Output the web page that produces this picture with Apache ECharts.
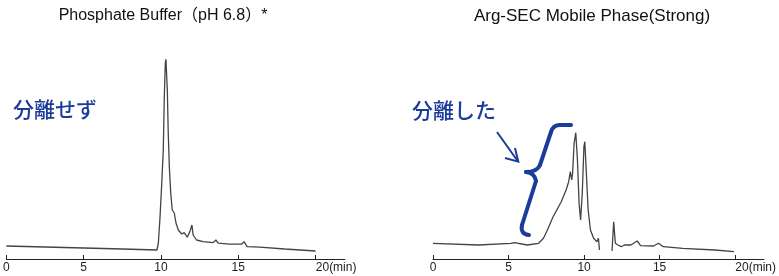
<!DOCTYPE html>
<html><head><meta charset="utf-8">
<script src="https://cdn.jsdelivr.net/npm/echarts@6/dist/echarts.min.js"></script>
<style>html,body{margin:0;padding:0;background:#fff}#c{width:779px;height:276px}</style>
</head><body><div id="c"></div>
<script>
const leftTitle = 'Phosphate Buffer（pH 6.8）*';
const rightTitle = 'Arg-SEC Mobile Phase(Strong)';
const leftNote = '分離せず';
const rightNote = '分離した';
const tickValues = [0, 5, 10, 15, 20];
const unitLabel = '(min)';

const leftTime = [0, 2.5, 5, 7.5, 9.74, 9.83, 9.94, 10.05, 10.15, 10.21, 10.28, 10.32, 10.41, 10.47, 10.54, 10.63, 10.73, 10.86, 10.97, 11.12, 11.34, 11.5, 11.7, 11.87, 12.0, 12.08, 12.3, 12.73, 13.37, 13.55, 13.7, 14.45, 15.21, 15.37, 15.57, 16.39, 18, 20];
const leftSignal = [6.5, 6.0, 5.5, 5.0, 4.5, 8, 21.2, 38, 54.5, 79.5, 98, 99.8, 84.5, 63, 46.2, 33, 24.5, 23, 18, 14.5, 12.5, 13.2, 10.9, 13.7, 17, 12, 9.5, 8.7, 8.2, 9.5, 7.9, 7.4, 7.4, 8.7, 6.2, 5.9, 5.0, 4.0];

const rightTime = [0, 3.02, 5.16, 5.38, 6.24, 6.99, 7.31, 7.52, 7.95, 8.49, 8.81, 8.98, 9.09, 9.18, 9.24, 9.34, 9.45, 9.56, 9.67, 9.77, 9.88, 9.99, 10.05, 10.14, 10.27, 10.42, 10.63, 10.85, 10.95, 11.02, 11.4, 11.85, 11.96, 12.07, 12.24, 12.46, 12.67, 13.1, 13.52, 13.74, 14.6, 14.92, 15.24, 16.53, 18.65, 19.92];
const rightSignal = [7.85, 7.0, 7.85, 8.15, 7.0, 7.85, 10.35, 13.65, 21.15, 28.65, 34.5, 38.65, 43.65, 39.5, 42.85, 57.85, 63.15, 49.5, 27.85, 19.5, 32.85, 56.15, 58.65, 44.5, 24.5, 14.5, 10.35, 8.65, 10.35, 4.5, '-', 4.0, 18.65, 7.85, 7.0, 6.15, 7.0, 7.0, 9.0, 6.65, 6.5, 7.85, 6.15, 5.35, 4.5, 3.65];

const pair = (t, s) => t.map((x, i) => [x, s[i]]);
const blue = '#1b3c98';
const font = '"Liberation Sans", Arial, "Noto Sans CJK JP", sans-serif';
const jpFont = '"Noto Sans CJK JP", sans-serif';

function xAxisFor(gridIndex) {
  return {
    type: 'value', gridIndex, min: 0, max: 21.9,
    axisLine: { show: true, lineStyle: { color: '#222', width: 1 } },
    axisTick: { show: true, inside: true, length: 4, customValues: tickValues, lineStyle: { color: '#222' } },
    axisLabel: {
      customValues: tickValues, margin: 3, color: '#222', fontSize: 12, fontFamily: font,
      formatter: v => v === 20 ? '{pad|}20' + unitLabel : String(v),
      rich: { pad: { width: 41 } }
    },
    splitLine: { show: false }
  };
}
function yAxisFor(gridIndex) {
  return { type: 'value', gridIndex, min: 0, max: 100, show: false, splitLine: { show: false } };
}

const braceStyle = { stroke: blue, lineWidth: 4, fill: null, lineCap: 'round' };
function seg(x1, y1, x2, y2) { return { type: 'line', shape: { x1, y1, x2, y2 }, style: braceStyle }; }
function curve(x1, y1, cpx1, cpy1, x2, y2) { return { type: 'bezierCurve', shape: { x1, y1, cpx1, cpy1, x2, y2 }, style: braceStyle }; }

const chart = echarts.init(document.getElementById('c'), null, { renderer: 'canvas' });
chart.setOption({
  animation: false,
  backgroundColor: '#fff',
  grid: [
    { left: 6, top: 59, width: 339, height: 200 },
    { left: 433, top: 59, width: 340, height: 200 }
  ],
  xAxis: [xAxisFor(0), xAxisFor(1)],
  yAxis: [yAxisFor(0), yAxisFor(1)],
  series: [
    { type: 'line', xAxisIndex: 0, yAxisIndex: 0, data: pair(leftTime, leftSignal), showSymbol: false, connectNulls: false,
      lineStyle: { color: '#444', width: 1.3 } },
    { type: 'line', xAxisIndex: 1, yAxisIndex: 1, data: pair(rightTime, rightSignal), showSymbol: false, connectNulls: false,
      lineStyle: { color: '#444', width: 1.3 } }
  ],
  graphic: [
    { type: 'text', x: 163, y: 16, style: { text: leftTitle, fontSize: 16, fontFamily: font, fill: '#111', align: 'center', verticalAlign: 'middle' } },
    { type: 'text', x: 592, y: 16, style: { text: rightTitle, fontSize: 17, fontFamily: font, fill: '#111', align: 'center', verticalAlign: 'middle' } },
    { type: 'text', x: 13, y: 109, style: { text: leftNote, fontSize: 21, fontWeight: 500, fontFamily: jpFont, fill: blue, align: 'left', verticalAlign: 'middle' } },
    { type: 'text', x: 412, y: 110, style: { text: rightNote, fontSize: 21, fontWeight: 500, fontFamily: jpFont, fill: blue, align: 'left', verticalAlign: 'middle' } },
    seg(571, 125, 560, 125),
    curve(560, 125, 553, 125, 551, 132),
    seg(551, 132, 540, 165),
    curve(540, 165, 537, 172, 526, 172),
    curve(526, 172, 535, 173, 536, 181),
    seg(536, 181, 522, 225),
    curve(522, 225, 520, 234, 529, 235),
    { type: 'polyline', shape: { points: [[497, 132], [518, 161.5]] }, style: { stroke: blue, lineWidth: 2, fill: null } },
    { type: 'polyline', shape: { points: [[515, 148], [518.3, 161.7], [505, 158]] }, style: { stroke: blue, lineWidth: 2, fill: null } }
  ]
});
</script>
</body></html>
